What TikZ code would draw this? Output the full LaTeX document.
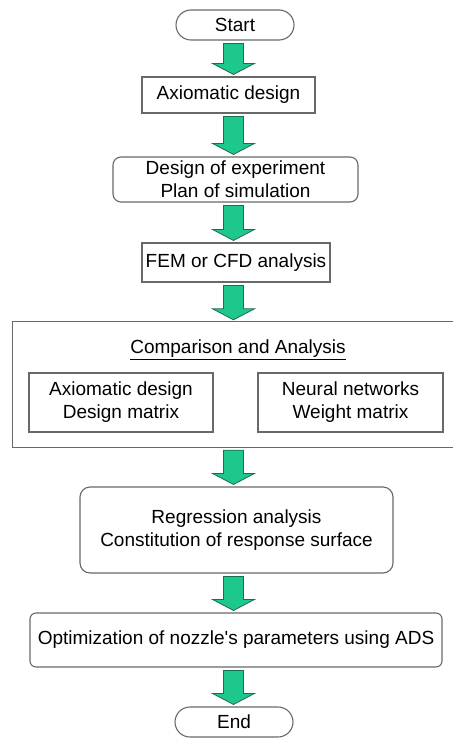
\documentclass[tikz,border=0pt]{standalone}
\usepackage{fontspec}
\setmainfont{Liberation Sans}[Ligatures=TeXOff]
\usetikzlibrary{calc}
\definecolor{arrowfill}{RGB}{30,200,140}
\definecolor{arrowline}{RGB}{25,110,75}
\definecolor{boxline}{RGB}{105,105,105}
\tikzset{
  box/.style={draw=boxline, line width=1.1pt, fill=white, inner sep=0pt, align=center,
    font=\fontsize{19}{23}\selectfont},
  rbox/.style={box, rounded corners=8pt},
  term/.style={box, rounded corners=15pt},
  label/.style={inner sep=0pt, align=center, font=\fontsize{19}{23}\selectfont},
  flow/.style={fill=arrowfill, draw=arrowline, line width=0.8pt, line join=miter}
}
% block arrow from node #1 (above) to node #2 (below)
\newcommand\flowarrow[2]{%
  \path let \p1=(#1.south), \p2=(#2.north) in
    [flow] (223.5pt,\y1-3pt) -- (243.5pt,\y1-3pt) -- (243.5pt,\y2+13pt)
      -- (254.5pt,\y2+13pt) -- (233.5pt,\y2+2pt) -- (212.5pt,\y2+13pt)
      -- (223.5pt,\y2+13pt) -- cycle;}
\begin{document}
\begin{tikzpicture}[x=1pt,y=-1pt]
\useasboundingbox (0,0) rectangle (452,738);
\node[term, minimum width=118pt, minimum height=30pt] (start) at (235,25) {Start};
\node[box, minimum width=173pt, minimum height=36pt] (axio) at (228.5,95) {Axiomatic design};
\node[rbox, minimum width=245pt, minimum height=45pt] (doe) at (235.5,179.5) {Design of experiment\\Plan of simulation};
\node[box, minimum width=188pt, minimum height=39pt] (fem) at (236,262.5) {FEM or CFD analysis};
\node[inner sep=0pt, minimum width=442pt, minimum height=125pt] (cmp) at (234,384.5) {};
\draw[draw=boxline, line width=1.1pt] (cmp.north east) -- (cmp.north west) -- (cmp.south west) -- (cmp.south east);
\node[label] (cmptitle) at (238,350) {\underline{Comparison and Analysis}};
\node[box, minimum width=184pt, minimum height=59pt] (ad) at (121,402.5) {Axiomatic design\\Design matrix};
\node[box, minimum width=185pt, minimum height=59pt] (nn) at (350.5,402.5) {Neural networks\\Weight matrix};
\node[rbox, rounded corners=10pt, minimum width=313pt, minimum height=86pt] (reg) at (236.5,530) {Regression analysis\\Constitution of response surface};
\node[rbox, rounded corners=6pt, minimum width=412pt, minimum height=54pt] (opt) at (236,640) {Optimization of nozzle's parameters using ADS};
\node[term, minimum width=118pt, minimum height=30pt] (end) at (234,722) {End};
\flowarrow{start}{axio}
\flowarrow{axio}{doe}
\flowarrow{doe}{fem}
\flowarrow{fem}{cmp}
\flowarrow{cmp}{reg}
\flowarrow{reg}{opt}
\flowarrow{opt}{end}
\end{tikzpicture}
\end{document}
